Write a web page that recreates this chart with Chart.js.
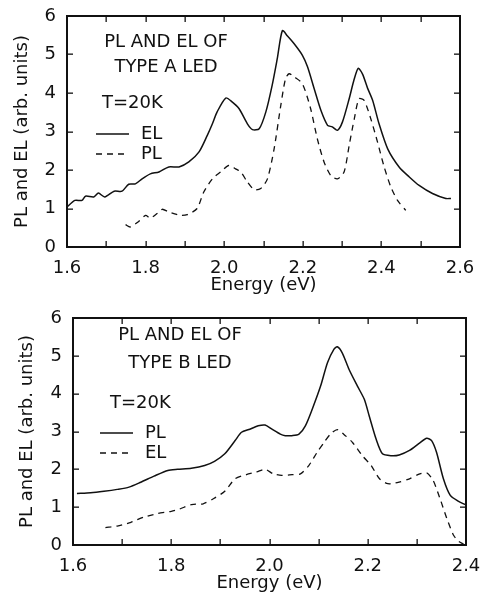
<!DOCTYPE html>
<html>
<head>
<meta charset="utf-8">
<script src="https://cdn.jsdelivr.net/npm/chart.js@4.4.1/dist/chart.umd.min.js"></script>
<style>
  html, body { margin: 0; padding: 0; background: #fff; }
  body { width: 480px; height: 592px; position: relative; overflow: hidden; }
  .panel { position: absolute; left: 0; width: 480px; }
  #boxA { top: 0; height: 296px; }
  #boxB { top: 296px; height: 298px; }
</style>
</head>
<body>
<div class="panel" id="boxA"><canvas id="chartA" width="480" height="296"></canvas></div>
<div class="panel" id="boxB"><canvas id="chartB" width="480" height="298"></canvas></div>
<script>
// type A LED, EL (solid)
var energyA_EL = [1.600, 1.620, 1.638, 1.647, 1.668, 1.680, 1.696, 1.720, 1.740, 1.757, 1.774, 1.791, 1.812, 1.834, 1.859, 1.885, 1.910, 1.936, 1.957, 1.970, 1.982, 2.004, 2.020, 2.038, 2.059, 2.072, 2.089, 2.106, 2.122, 2.135, 2.148, 2.161, 2.178, 2.199, 2.212, 2.229, 2.246, 2.263, 2.275, 2.288, 2.301, 2.318, 2.330, 2.341, 2.352, 2.365, 2.378, 2.394, 2.416, 2.445, 2.471, 2.496, 2.530, 2.564, 2.577];
var elA = [1.04, 1.21, 1.21, 1.32, 1.30, 1.40, 1.30, 1.45, 1.45, 1.63, 1.64, 1.77, 1.90, 1.95, 2.08, 2.08, 2.21, 2.47, 2.90, 3.20, 3.51, 3.87, 3.77, 3.59, 3.20, 3.05, 3.07, 3.51, 4.20, 4.89, 5.62, 5.48, 5.28, 4.98, 4.68, 4.11, 3.55, 3.16, 3.12, 3.03, 3.25, 3.85, 4.33, 4.64, 4.49, 4.12, 3.80, 3.20, 2.55, 2.08, 1.82, 1.60, 1.39, 1.26, 1.26];
// type A LED, PL (dashed)
var energyA_PL = [1.749, 1.761, 1.783, 1.800, 1.812, 1.829, 1.842, 1.859, 1.872, 1.889, 1.906, 1.931, 1.948, 1.970, 1.991, 2.012, 2.029, 2.042, 2.059, 2.076, 2.093, 2.110, 2.127, 2.144, 2.156, 2.165, 2.178, 2.199, 2.220, 2.237, 2.254, 2.271, 2.288, 2.305, 2.318, 2.331, 2.343, 2.356, 2.373, 2.390, 2.407, 2.424, 2.441, 2.462];
var plA = [0.58, 0.52, 0.67, 0.82, 0.75, 0.87, 0.98, 0.91, 0.87, 0.82, 0.84, 1.00, 1.43, 1.77, 1.95, 2.12, 2.03, 1.95, 1.69, 1.49, 1.52, 1.77, 2.55, 3.68, 4.37, 4.50, 4.42, 4.24, 3.59, 2.81, 2.21, 1.86, 1.77, 1.95, 2.64, 3.33, 3.85, 3.81, 3.33, 2.73, 2.08, 1.56, 1.21, 0.95];

// type B LED, PL (solid)
var energyB_PL = [1.608, 1.636, 1.663, 1.690, 1.714, 1.738, 1.765, 1.793, 1.813, 1.841, 1.868, 1.888, 1.909, 1.930, 1.943, 1.960, 1.977, 1.991, 2.005, 2.022, 2.032, 2.046, 2.060, 2.073, 2.087, 2.104, 2.118, 2.131, 2.138, 2.148, 2.162, 2.179, 2.193, 2.203, 2.217, 2.230, 2.248, 2.264, 2.285, 2.306, 2.320, 2.330, 2.340, 2.354, 2.368, 2.384, 2.398];
var plB = [1.36, 1.38, 1.42, 1.47, 1.53, 1.66, 1.82, 1.97, 2.00, 2.03, 2.10, 2.21, 2.41, 2.76, 2.98, 3.06, 3.15, 3.17, 3.06, 2.93, 2.89, 2.89, 2.93, 3.15, 3.59, 4.20, 4.82, 5.17, 5.24, 5.08, 4.64, 4.20, 3.85, 3.41, 2.80, 2.41, 2.36, 2.38, 2.50, 2.70, 2.82, 2.76, 2.45, 1.75, 1.31, 1.16, 1.07];
// type B LED, EL (dashed)
var energyB_EL = [1.666, 1.690, 1.718, 1.745, 1.772, 1.800, 1.817, 1.841, 1.865, 1.888, 1.909, 1.930, 1.953, 1.974, 1.991, 2.008, 2.025, 2.046, 2.063, 2.080, 2.097, 2.111, 2.124, 2.138, 2.151, 2.169, 2.189, 2.207, 2.224, 2.241, 2.264, 2.285, 2.306, 2.320, 2.333, 2.347, 2.361, 2.375, 2.385, 2.395];
var elB = [0.46, 0.50, 0.60, 0.74, 0.83, 0.89, 0.95, 1.07, 1.09, 1.24, 1.42, 1.75, 1.86, 1.93, 2.00, 1.88, 1.84, 1.86, 1.88, 2.10, 2.45, 2.71, 2.93, 3.05, 2.93, 2.71, 2.36, 2.10, 1.75, 1.62, 1.66, 1.75, 1.88, 1.91, 1.71, 1.23, 0.70, 0.25, 0.10, 0.02];

var yTicks = [0, 1, 2, 3, 4, 5, 6];

var INK = '#111';
Chart.defaults.font.family = '"DejaVu Sans", sans-serif';
Chart.defaults.font.size = 18;
Chart.defaults.color = INK;

function pts(xs, ys) {
  var out = [];
  for (var i = 0; i < xs.length; i++) out.push({x: xs[i], y: ys[i]});
  return out;
}

// frame with inward ticks, then the text block and legend inside the plot
function panelPlugin(name, cfg) {
  return {
    id: 'panel' + name,
    afterDraw: function(chart) {
      var c = chart.ctx, a = chart.chartArea;
      var xs = chart.scales.x, ys = chart.scales.y;
      var L = Math.round(a.left), T = Math.round(a.top), R = Math.round(a.right), B = Math.round(a.bottom);
      c.save();
      c.setLineDash([]);
      c.fillStyle = INK;
      // frame as four thin bars
      c.fillRect(L - 1, T - 1, R - L + 2, 2);
      c.fillRect(L - 1, B - 1, R - L + 2, 2);
      c.fillRect(L - 1, T - 1, 2, B - T + 2);
      c.fillRect(R - 1, T - 1, 2, B - T + 2);
      xs.ticks.forEach(function(t) {
        var px = Math.round(xs.getPixelForValue(t.value));
        c.fillRect(px - 0.5, B - 6, 1.3, 6);
        c.fillRect(px - 0.5, T, 1.3, 6);
      });
      ys.ticks.forEach(function(t) {
        var py = Math.round(ys.getPixelForValue(t.value));
        c.fillRect(L, py - 0.5, 6, 1.3);
        c.fillRect(R - 6, py - 0.5, 6, 1.3);
      });

      c.font = '18px "DejaVu Sans", sans-serif';
      c.textBaseline = 'middle';
      c.textAlign = 'center';
      c.fillText(cfg.line1, cfg.cx, cfg.y1);
      c.fillText(cfg.line2, cfg.cx, cfg.y2);
      c.textAlign = 'left';
      c.fillText('T=20K', cfg.tx, cfg.ty);
      c.strokeStyle = INK;
      c.lineWidth = 1.5;
      c.beginPath(); c.moveTo(cfg.lx, cfg.ly1); c.lineTo(cfg.lx + 33, cfg.ly1); c.stroke();
      c.setLineDash([6, 5]);
      c.beginPath(); c.moveTo(cfg.lx, cfg.ly2); c.lineTo(cfg.lx + 33, cfg.ly2); c.stroke();
      c.setLineDash([]);
      c.fillText(cfg.solidName, cfg.lx + 45, cfg.ly1);
      c.fillText(cfg.dashName, cfg.lx + 45, cfg.ly2);
      c.restore();
    }
  };
}

function makeChart(id, opt) {
  var xTick = function(v) {
    var k = Math.round(v * 10);
    return k % 2 === 0 ? (k / 10).toFixed(1) : '';
  };
  return new Chart(document.getElementById(id), {
    type: 'line',
    data: {
      datasets: [
        { data: pts(opt.xs1, opt.ys1), borderColor: INK, borderWidth: 1.5, pointRadius: 0, tension: 0.25, fill: false },
        { data: pts(opt.xs2, opt.ys2), borderColor: INK, borderWidth: 1.3, borderDash: [6, 5], pointRadius: 0, tension: 0.25, fill: false }
      ]
    },
    options: {
      responsive: false,
      animation: false,
      events: [],
      layout: { padding: opt.pad },
      plugins: { legend: { display: false }, tooltip: { enabled: false } },
      scales: {
        x: {
          type: 'linear', position: 'bottom', min: opt.xmin, max: opt.xmax,
          grid: { display: false, drawTicks: false }, border: { display: false },
          ticks: { stepSize: 0.1, autoSkip: false, maxRotation: 0, padding: 11, callback: xTick },
          title: { display: true, text: 'Energy (eV)', padding: { top: 0, bottom: 0 } },
          afterFit: function(s) { s.height = opt.xh; s.paddingLeft = 0; s.paddingRight = 0; }
        },
        y: {
          type: 'linear', position: 'left', min: 0, max: 6,
          grid: { display: false, drawTicks: false }, border: { display: false },
          afterBuildTicks: function(s) { s.ticks = yTicks.map(function(v) { return {value: v}; }); },
          ticks: { padding: 11 },
          title: { display: true, text: 'PL and EL (arb. units)', padding: { top: opt.ytp, bottom: 0 } },
          afterFit: function(s) { s.width = opt.yw; s.paddingTop = 0; s.paddingBottom = 0; }
        }
      }
    },
    plugins: [panelPlugin(opt.name, opt.labels)]
  });
}

makeChart('chartA', {
  name: 'A',
  xs1: energyA_EL, ys1: elA, xs2: energyA_PL, ys2: plA,
  xmin: 1.6, xmax: 2.6,
  pad: { left: 0, right: 20, top: 16, bottom: 0 },
  xh: 49, yw: 67, ytp: 12,
  labels: { line1: 'PL AND EL OF', line2: 'TYPE A LED', cx: 166, y1: 42, y2: 67,
            tx: 102, ty: 103, lx: 96, ly1: 134, ly2: 154, solidName: 'EL', dashName: 'PL' }
});

makeChart('chartB', {
  name: 'B',
  xs1: energyB_PL, ys1: plB, xs2: energyB_EL, ys2: elB,
  xmin: 1.6, xmax: 2.4,
  pad: { left: 0, right: 14, top: 22, bottom: 0 },
  xh: 49, yw: 73, ytp: 17,
  labels: { line1: 'PL AND EL OF', line2: 'TYPE B LED', cx: 180, y1: 39, y2: 67,
            tx: 110, ty: 107, lx: 100, ly1: 137, ly2: 157, solidName: 'PL', dashName: 'EL' }
});
</script>
</body>
</html>
